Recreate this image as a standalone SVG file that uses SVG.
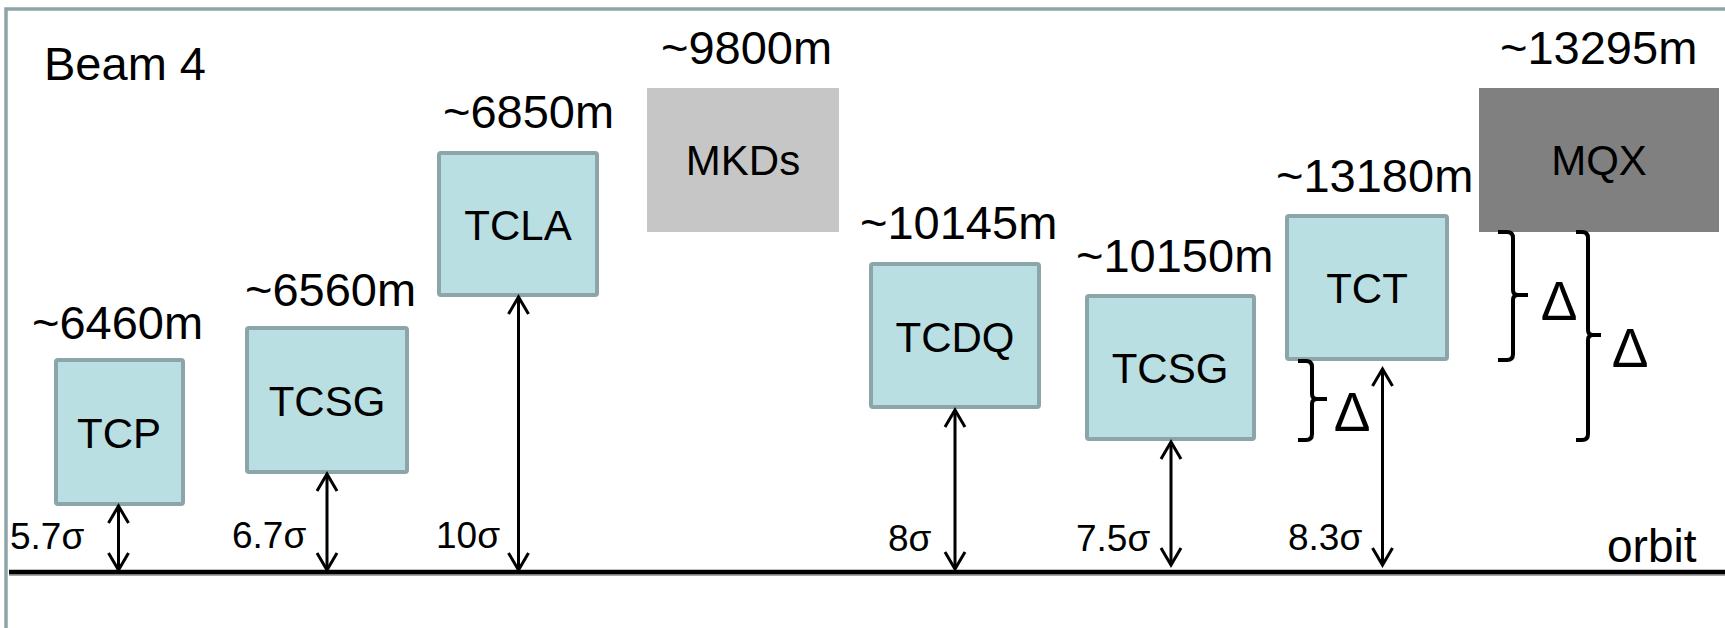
<svg xmlns="http://www.w3.org/2000/svg" width="1725" height="628" viewBox="0 0 1725 628">
<style>
text{font-family:"Liberation Sans",Arial,sans-serif;fill:#000}
.box{fill:#b9dfe2;stroke:#8ca5a8;stroke-width:4}
.lbl{font-size:42px;text-anchor:middle}
.dist{font-size:47px}
.sig{font-size:37px}
.arr{stroke:#000;stroke-width:3;fill:none;marker-start:url(#ah);marker-end:url(#ah)}
.brace{stroke:#000;stroke-width:4;fill:none;stroke-linecap:butt}
.delta{font-size:55px;text-anchor:middle}
</style>
<defs>
<marker id="ah" viewBox="-20 -12 24 24" markerWidth="24" markerHeight="24" refX="0" refY="0" markerUnits="userSpaceOnUse" orient="auto-start-reverse" overflow="visible">
<path d="M-17,-10 L0,0 L-17,10" fill="none" stroke="#000" stroke-width="3"/>
</marker>
</defs>
<rect x="6" y="9" width="1800" height="700" fill="#fff" stroke="#8ca5a8" stroke-width="3.5"/>
<text x="44" y="80" style="font-size:47px">Beam 4</text>
<g id="orbit">
<line x1="9" y1="575" x2="1725" y2="575" stroke="#8a8a8a" stroke-width="1.5"/>
<line x1="9" y1="572" x2="1725" y2="572" stroke="#000" stroke-width="4.5"/>
<text x="1607" y="562" style="font-size:46px">orbit</text>
</g>
<g id="tcp">
<rect class="box" x="56" y="360" width="127" height="144" rx="2"/>
<text class="lbl" x="119" y="448">TCP</text>
<text class="dist" x="32" y="339">~6460m</text>
<text class="sig" x="10" y="549">5.7σ</text>
</g>
<g id="tcsg1">
<rect class="box" x="247" y="328" width="160" height="144" rx="2"/>
<text class="lbl" x="327" y="416">TCSG</text>
<text class="dist" x="245" y="306">~6560m</text>
<text class="sig" x="232" y="548">6.7σ</text>
</g>
<g id="tcla">
<rect class="box" x="439" y="153" width="158" height="142" rx="2"/>
<text class="lbl" x="518" y="240">TCLA</text>
<text class="dist" x="443" y="128">~6850m</text>
<text class="sig" x="436" y="548">10σ</text>
</g>
<g id="mkds">
<rect x="647" y="88" width="192" height="144" fill="#c6c6c6"/>
<text class="lbl" x="743" y="175">MKDs</text>
<text class="dist" x="661" y="64">~9800m</text>
</g>
<g id="tcdq">
<rect class="box" x="871" y="264" width="168" height="143" rx="2"/>
<text class="lbl" x="955" y="352">TCDQ</text>
<text class="dist" x="860" y="239">~10145m</text>
<text class="sig" x="888" y="551">8σ</text>
</g>
<g id="tcsg2">
<rect class="box" x="1087" y="296" width="167" height="143" rx="2"/>
<text class="lbl" x="1170" y="383">TCSG</text>
<text class="dist" x="1076" y="272">~10150m</text>
<text class="sig" x="1076" y="551">7.5σ</text>
</g>
<g id="tct">
<rect class="box" x="1287" y="216" width="160" height="143" rx="2"/>
<text class="lbl" x="1367" y="303">TCT</text>
<text class="dist" x="1276" y="192">~13180m</text>
<text class="sig" x="1288" y="550">8.3σ</text>
</g>
<g id="mqx">
<rect x="1479" y="88" width="240" height="144" fill="#808080"/>
<text class="lbl" x="1599" y="175">MQX</text>
<text class="dist" x="1500" y="64">~13295m</text>
</g>
<g id="deltas">
<path class="brace" d="M1498,232 L1507,232 Q1513,232 1513,238 L1513,290 Q1513,295 1518,295 L1528,295 M1518,295 Q1513,295 1513,300 L1513,354 Q1513,360 1507,360 L1498,360"/>
<text class="delta" x="1559" y="320">Δ</text>
<path class="brace" d="M1576,232 L1582,232 Q1588,232 1588,238 L1588,330 Q1588,335 1593,335 L1601,335 M1593,335 Q1588,335 1588,340 L1588,434 Q1588,440 1582,440 L1576,440"/>
<text class="delta" x="1630" y="367">Δ</text>
<path class="brace" d="M1298,361 L1306,361 Q1312,361 1312,367 L1312,394 Q1312,399 1317,399 L1327,399 M1317,399 Q1312,399 1312,404 L1312,434 Q1312,440 1306,440 L1298,440"/>
<text class="delta" x="1352" y="431">Δ</text>
</g>
<g id="connectors">
<line class="arr" x1="118.5" y1="506" x2="118.5" y2="570"/>
<line class="arr" x1="327" y1="474" x2="327" y2="570"/>
<line class="arr" x1="518.5" y1="297" x2="518.5" y2="570"/>
<line class="arr" x1="955" y1="410" x2="955" y2="569"/>
<line class="arr" x1="1171" y1="442" x2="1171" y2="565"/>
<line class="arr" x1="1382.5" y1="369" x2="1382.5" y2="565"/>
</g>
</svg>
